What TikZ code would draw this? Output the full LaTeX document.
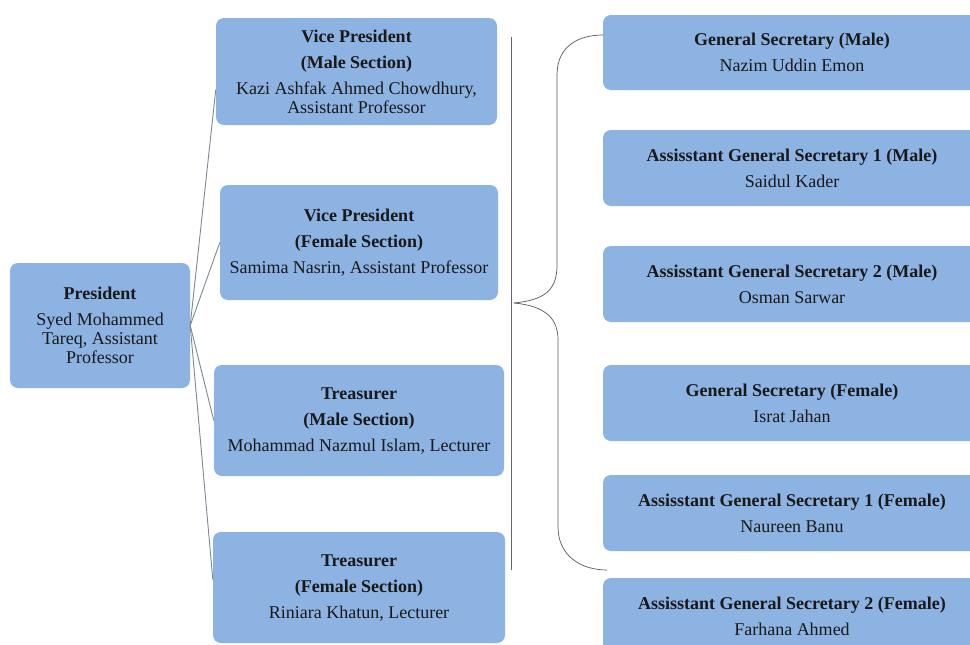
\documentclass[tikz,border=0pt]{standalone}
\usepackage{fontspec}
\setmainfont{Liberation Serif}
\begin{document}
\begin{tikzpicture}[x=1pt,y=-1pt,
  box/.style={rectangle, rounded corners=8pt, fill=boxblue, draw=none, align=center,
    text=black!90, font=\fontsize{18}{19}\selectfont, inner sep=0pt},
  link/.style={draw=linegray, line width=0.9pt},
  brace/.style={draw=black!65, line width=0.7pt}]
\definecolor{boxblue}{RGB}{141,179,226}
\definecolor{linegray}{RGB}{125,135,150}
\useasboundingbox (0,0) rectangle (970,645);
\clip (0,0) rectangle (970,645);
\fill[white] (0,0) rectangle (970,645);

% left column
\node[box, minimum width=180pt, minimum height=125pt] (pres) at (100,325.5)
  {\textbf{President}\\[7pt]Syed Mohammed\\Tareq, Assistant\\Professor};

% middle column
\node[box, minimum width=281pt, minimum height=107pt] (vpm) at (356.5,71.5)
  {\textbf{Vice President}\\[7pt]\textbf{(Male Section)}\\[7pt]Kazi Ashfak Ahmed Chowdhury,\\Assistant Professor};
\node[box, minimum width=278pt, minimum height=115pt] (vpf) at (359,242.5)
  {\textbf{Vice President}\\[7pt]\textbf{(Female Section)}\\[7pt]Samima Nasrin, Assistant Professor};
\node[box, minimum width=290pt, minimum height=111pt] (trm) at (359,420.5)
  {\textbf{Treasurer}\\[7pt]\textbf{(Male Section)}\\[7pt]Mohammad Nazmul Islam, Lecturer};
\node[box, minimum width=292pt, minimum height=111pt] (trf) at (359,587.5)
  {\textbf{Treasurer}\\[7pt]\textbf{(Female Section)}\\[7pt]Riniara Khatun, Lecturer};

% right column
\node[box, minimum width=378pt, minimum height=75pt] (gsm) at (792,52.5)
  {\textbf{General Secretary (Male)}\\[7pt]Nazim Uddin Emon};
\node[box, minimum width=378pt, minimum height=76pt] (agsm1) at (792,168)
  {\textbf{Assisstant General Secretary 1 (Male)}\\[7pt]Saidul Kader};
\node[box, minimum width=378pt, minimum height=76pt] (agsm2) at (792,284)
  {\textbf{Assisstant General Secretary 2 (Male)}\\[7pt]Osman Sarwar};
\node[box, minimum width=378pt, minimum height=76pt] (gsf) at (792,403)
  {\textbf{General Secretary (Female)}\\[7pt]Israt Jahan};
\node[box, minimum width=378pt, minimum height=76pt] (agsf1) at (792,513)
  {\textbf{Assisstant General Secretary 1 (Female)}\\[7pt]Naureen Banu};
\node[box, minimum width=378pt, minimum height=76pt] (agsf2) at (792,616)
  {\textbf{Assisstant General Secretary 2 (Female)}\\[7pt]Farhana Ahmed};

% connectors from president
\draw[link] (pres.east) -- ([yshift=-18pt]vpm.west);
\draw[link] (pres.east) -- (vpf.west);
\draw[link] (pres.east) -- (trm.west);
\draw[link] (pres.east) -- ([yshift=8pt]trf.west);

% vertical separator
\coordinate (vt) at (511,37);
\coordinate (vb) at (511,570);
\draw[link, draw=black!60, line width=0.8pt] (vt) -- (vb);

% brace
\coordinate (btip) at (514,303);
\coordinate (btop) at ([yshift=17.5pt]gsm.west);
\coordinate (bbot) at (607,570);
\draw[brace] (btip) .. controls (545,300) and (557,290) .. (557,265)
  -- (557,75) .. controls (557,45) and (580,35) .. (btop);
\draw[brace] (btip) .. controls (545,306) and (558,318) .. (558,340)
  -- (558,527) .. controls (558,555) and (580,570) .. (bbot);
\end{tikzpicture}
\end{document}
